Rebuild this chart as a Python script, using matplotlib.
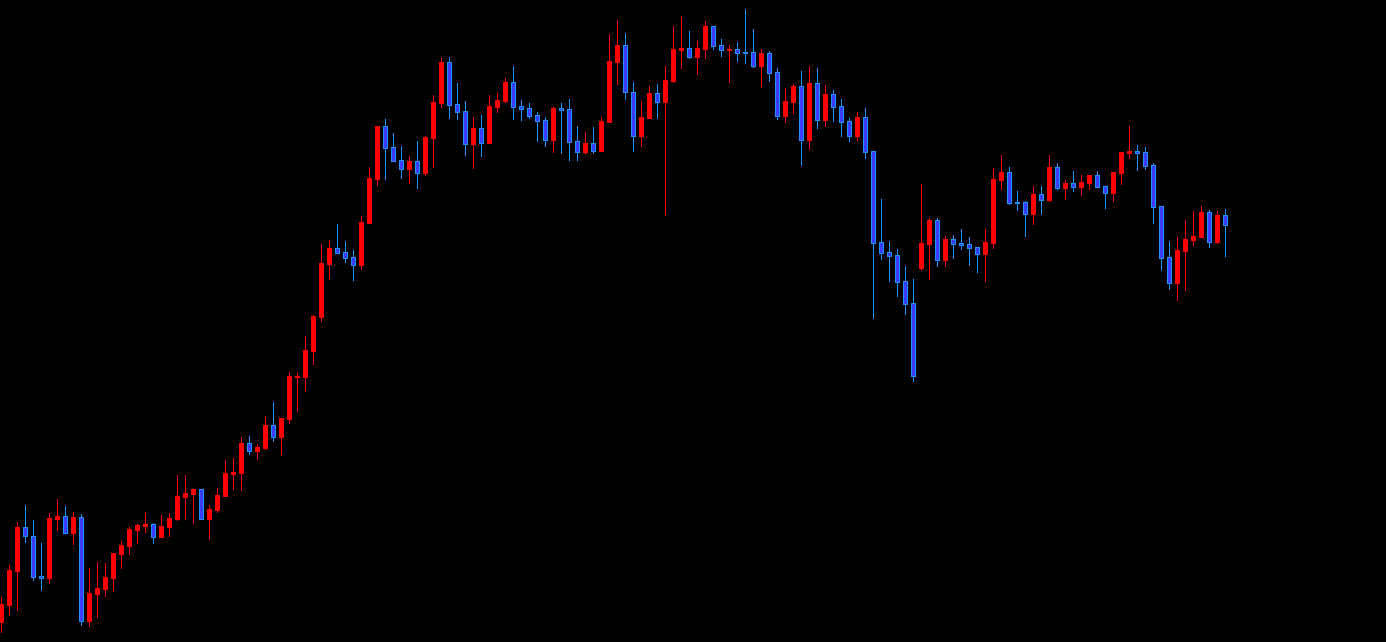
import matplotlib
matplotlib.use("Agg")
import matplotlib.pyplot as plt
import numpy as np

# OHLC values (arbitrary price units)
opens = [20.3, 37.3, 71.3, 114.7, 105.7, 66, 64.3, 123.3, 126, 109.3,
         125, 21.3, 48.3, 53.3, 64.3, 88.3, 96.3, 112.3, 116.3, 118,
         105.3, 115.3, 123.3, 145.3, 148.3, 153, 123.3, 132, 146, 168.3,
         169, 199, 191, 194, 217, 205, 223, 265, 265, 291.3,
         325, 378.3, 394, 390, 385, 377.3, 419.3, 463, 516, 495,
         482, 473.3, 481, 469.3, 504, 539, 580, 538, 531, 498.3,
         514, 499.3, 535.3, 541, 560, 536, 534, 527, 522, 502.3,
         534, 533, 501, 490.3, 499, 491.3, 520.3, 580.3, 597, 549.7,
         506.3, 524.3, 549, 540.3, 561.3, 592.3, 594, 585.3, 593.3, 616,
         597, 592.3, 593, 590.3, 590, 576.3, 589, 570, 526.3, 540.3,
         556, 502.3, 559, 522.3, 548, 536, 521, 506.3, 525, 491,
         400, 390, 387, 361, 339, 374.3, 398.3, 422, 382.3, 403,
         399, 398, 395, 388.3, 399.3, 462.3, 470, 440.3, 440.3, 428.3,
         448, 442.3, 475, 454.3, 459, 455.3, 459.3, 467, 456, 449.3,
         469.3, 489.3, 491, 490, 477, 436, 385, 359.3, 391.3, 402.3,
         405.3, 430, 400.3, 427]
highs = [45, 77, 120, 137, 122, 99, 129, 143, 136, 130,
         128, 74, 80, 79, 89, 101, 115, 118, 129, 119,
         127, 129, 167, 167, 153, 153, 137, 154, 182, 184,
         205, 206, 198, 225, 240, 224, 270, 270, 306, 327,
         398, 401, 418, 401, 392, 426, 475, 516, 523, 509,
         496, 486, 501, 506, 547, 584, 585, 559, 541, 525,
         527, 547, 549, 564, 576, 542, 539, 530, 525, 535,
         539, 543, 516, 510, 515, 524, 608, 622, 609, 560,
         540, 556, 558, 576, 616, 625, 611, 601, 621, 616,
         603, 597, 600, 633, 613, 593, 591, 574, 554, 558,
         571, 576, 574, 557, 552, 543, 524, 530, 534, 491,
         443, 401, 393, 376, 363, 458, 424, 424, 406, 407,
         413, 405, 395, 413, 474, 487, 475, 451, 441.3, 456,
         456, 487, 479, 462, 471, 467, 467, 471, 456, 470,
         490, 516, 497, 495, 479, 436, 401, 405.3, 422.3, 431.3,
         436.3, 432.3, 431.3, 433.3]
lows = [10.3, 28.3, 32.3, 100.3, 62.3, 52.3, 59.3, 112.3, 109.3, 98.3,
        17.3, 16.3, 25.3, 46.3, 52.3, 74.3, 88.3, 99.3, 110.3, 99.3,
        105.3, 106.3, 122.3, 124.3, 119.3, 123.3, 103.3, 130, 146, 153,
        152, 188.3, 183, 193, 201, 188, 219, 231, 252, 278.3,
        321, 364.3, 389.3, 380.3, 362.3, 373.3, 419.3, 457, 463, 481.3,
        464, 459.3, 454.3, 467.3, 475.3, 535, 524, 523, 487.3, 474.3,
        486, 499.3, 530.3, 540, 523.3, 522.3, 524.3, 501.3, 496.3, 490.3,
        489.3, 482.3, 482.3, 488.3, 489.3, 491.3, 520.3, 558.3, 543.3, 491.3,
        496.3, 524.3, 524.3, 428.3, 560.3, 574.3, 584.3, 568.3, 584.3, 593.3,
        586.3, 560.3, 581.3, 579.3, 575.3, 556.3, 561.3, 523.3, 520.3, 529.3,
        477.3, 493.3, 514.3, 516.3, 521.3, 506.3, 501.3, 502.3, 484.3, 324.3,
        383.3, 361.3, 346.3, 328.3, 261.3, 372.3, 363.3, 376.3, 376.3, 384.3,
        393.3, 377.3, 370.3, 361.3, 394.3, 453.3, 438.3, 432.3, 406.3, 418.3,
        428.3, 441.3, 453.3, 444.3, 451.3, 447.3, 453.3, 455.3, 434.3, 441.3,
        458.3, 484.3, 472.3, 473.3, 419.3, 372.3, 353.3, 342.3, 352.3, 397.3,
        405.3, 395.3, 399.3, 386.3]
closes = [38, 72, 115, 105.7, 65.3, 64.5, 124, 126, 109.3, 125,
          21.3, 49, 54, 65, 89, 97, 113, 117, 118, 105.3,
          116, 124, 146, 149, 153, 123.3, 133, 147, 169, 170,
          199, 191.3, 195, 217, 205, 224, 266, 266.3, 292, 326,
          379, 394, 389.3, 384.3, 377.3, 420, 464, 516, 494.3, 481.3,
          473.3, 481, 469.3, 505, 540, 580, 537.3, 530.3, 498.3, 514,
          499.3, 536, 542, 560, 535.3, 533.3, 526.3, 521.3, 502.3, 534,
          532.3, 500.3, 490.3, 499, 491.3, 521, 581, 597, 549.7, 506.3,
          525, 549, 540.3, 562, 593, 594, 585.3, 594, 616, 596.3,
          592.3, 593.3, 589.3, 589.3, 576.3, 589, 569.3, 526.3, 541, 556,
          502.3, 559, 522.3, 548, 535.3, 520.3, 506.3, 525, 490.3, 399.3,
          389.3, 386.3, 360.3, 338.3, 266.3, 399, 422, 382.3, 403, 398.3,
          397.3, 394.3, 388.3, 400, 463, 470, 439.3, 439.3, 428.3, 448,
          442.3, 475, 454.3, 459, 455.3, 460, 467, 455.3, 449.3, 470,
          490, 491, 489.3, 476.3, 435.3, 384.3, 359.3, 392, 403, 406,
          430, 400.3, 427, 417.3]

UP_FACE, UP_EDGE = "#ff0000", "#ff0000"
DN_FACE, DN_EDGE = "#3c3cff", "#1e90ff"

o = np.array(opens); h = np.array(highs); l = np.array(lows); c = np.array(closes)
x = np.arange(len(o))
up = c >= o

fig = plt.figure(figsize=(13.86, 6.42), dpi=100, facecolor="black")
ax = fig.add_axes([0, 0, 1, 1])
ax.set_facecolor("black")

px = 0.72  # one pixel in points
ax.vlines(x[up], l[up], h[up], colors=UP_EDGE, linewidth=px, antialiased=False)
ax.vlines(x[~up], l[~up], h[~up], colors=DN_EDGE, linewidth=px, antialiased=False)

body_lo = np.minimum(o, c)
body_h = np.maximum(np.abs(c - o), 0.6)
ax.bar(x[up], body_h[up], bottom=body_lo[up], width=0.5,
       color=UP_FACE, edgecolor=UP_EDGE, linewidth=px, antialiased=False, zorder=3)
ax.bar(x[~up], body_h[~up], bottom=body_lo[~up], width=0.5,
       color=DN_FACE, edgecolor=DN_EDGE, linewidth=px, antialiased=False, zorder=3)

ax.set_xlim(-0.1625, -0.1625 + 1386 / 8)
ax.set_ylim(0, 642)
ax.axis("off")

fig.savefig("out.png", dpi=100, facecolor="black")
